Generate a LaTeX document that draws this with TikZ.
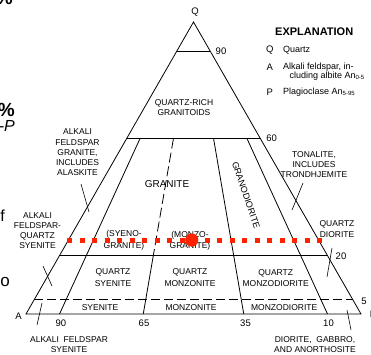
\documentclass[tikz,border=0pt]{standalone}
\usepackage{fontspec}
\setmainfont{Liberation Sans}
\usetikzlibrary{calc}
\definecolor{dotred}{RGB}{255,34,0}
\tikzset{
  edge/.style={line width=0.8pt, black},
  dashedge/.style={line width=0.8pt, black, dash pattern=on 9pt off 4pt},
  leader/.style={line width=0.6pt, black},
  lab/.style={font=\fontsize{8.5}{10.2}\selectfont, align=center, inner sep=0pt},
  labw/.style={font=\fontsize{8.5}{11.6}\selectfont, align=center, inner sep=0pt},
  big/.style={font=\fontsize{10}{12}\selectfont, inner sep=0pt},
  num/.style={font=\fontsize{9.5}{11}\selectfont, inner sep=0pt},
  expl/.style={font=\fontsize{9}{10}\selectfont, inner sep=0pt, anchor=west},
  explkey/.style={font=\fontsize{9.5}{10}\selectfont, inner sep=0pt, anchor=west},
  frag/.style={inner sep=0pt, anchor=south east},
  reddots/.style={dotred, line width=5pt, dash pattern=on 5pt off 7.5pt},
}
\begin{document}
\begin{tikzpicture}[x=1pt, y=-1pt]
\useasboundingbox (0,0) rectangle (371,354);
% corners
\coordinate (A) at (26,314);
\coordinate (P) at (361,314);
\coordinate (Q) at (193.5,22);
% horizontal levels
\coordinate (L90) at ($(A)!0.9!(Q)$);  \coordinate (R90) at ($(P)!0.9!(Q)$);
\coordinate (L60) at ($(A)!0.6!(Q)$);  \coordinate (R60) at ($(P)!0.6!(Q)$);
\coordinate (L20) at ($(A)!0.2!(Q)$);  \coordinate (R20) at ($(P)!0.2!(Q)$);
\coordinate (L5)  at ($(A)!0.05!(Q)$); \coordinate (R5)  at ($(P)!0.05!(Q)$);
% ratio lines
\coordinate (t10) at ($(L60)!0.10!(R60)$); \coordinate (b10) at ($(A)!0.10!(P)$);
\coordinate (t35) at ($(L60)!0.35!(R60)$); \coordinate (m35) at ($(L20)!0.35!(R20)$); \coordinate (b35) at ($(A)!0.35!(P)$);
\coordinate (t65) at ($(L60)!0.65!(R60)$); \coordinate (b65) at ($(A)!0.65!(P)$);
\coordinate (t90) at ($(L60)!0.90!(R60)$); \coordinate (b90) at ($(A)!0.90!(P)$);

% triangle and field boundaries
\draw[edge] (A) -- (P) -- (Q) -- cycle;
\draw[edge] (L90) -- (R90);
\draw[edge] (L60) -- (R60);
\draw[edge] (L20) -- (R20);
\draw[dashedge] (L5) -- (R5);
\draw[edge] (t10) -- (b10);
\draw[line width=0.8pt, dash pattern=on 10pt off 4pt] (t35) -- (m35);
\draw[edge] (m35) -- (b35);
\draw[edge] (t65) -- (b65);
\draw[edge] (t90) -- (b90);

% corner and scale labels
\node[num] (lQ) at (195,11.7) {Q};
\node[num] (lA) at (18.5,316.5) {A};
\node[num, anchor=west] (lP) at (369.6,314) {P};
\node[num] (n90t) at (221,51.7) {90};
\node[num] (n60) at (271.7,138) {60};
\node[num] (n20) at (341,256.3) {20};
\node[num] (n5) at (364,301) {5};
\node[num] (n90) at (61,323.5) {90};
\node[num] (n65) at (144,323.5) {65};
\node[num] (n35) at (245.5,323.5) {35};
\node[num] (n10) at (328.5,323.5) {10};

% field names
\node[lab] (qrg) at (184,107.7) {QUARTZ-RICH\\GRANITOIDS};
\node[big] (gr) at (167,184) {GRANITE};
\node[lab, font=\fontsize{9}{10}\selectfont, rotate=-71] (gd) at (246,195) {GRANODIORITE};
\node[lab, font=\fontsize{8.5}{12}\selectfont] (sg) at (124,240) {(SYENO-\\GRANITE)};
\node[lab, font=\fontsize{8.5}{11}\selectfont] (mg) at (190,241) {(MONZO-\\GRANITE)};
\node[labw] (qs) at (113,277.5) {QUARTZ\\SYENITE};
\node[labw] (qm) at (190,277.5) {QUARTZ\\MONZONITE};
\node[labw] (qmd) at (275.7,278) {QUARTZ\\MONZODIORITE};
\node[lab] (sy) at (100,307.3) {SYENITE};
\node[lab] (mz) at (191,307.3) {MONZONITE};
\node[lab] (mzd) at (284.2,307.3) {MONZODIORITE};
\node[lab] (qd) at (337,229) {QUARTZ\\DIORITE};
\node[lab] (ton) at (314,164.5) {TONALITE,\\INCLUDES\\TRONDHJEMITE};
\node[lab] (afg) at (77.5,152.5) {ALKALI\\FELDSPAR\\GRANITE,\\INCLUDES\\ALASKITE};
\node[lab] (afqs) at (37.5,230.7) {ALKALI\\FELDSPAR-\\QUARTZ\\SYENITE};
\node[lab] (afs) at (69,344.5) {ALKALI\ \ FELDSPAR\\SYENITE};
\node[lab] (dga) at (315,344.8) {DIORITE,\ \ GABBRO,\\AND ANORTHOSITE};

% leader lines
\coordinate (k1a) at (81,184);  \coordinate (k1b) at (89,212);
\coordinate (k2a) at (43,266);  \coordinate (k2b) at (52,286);
\coordinate (k3a) at (303,183); \coordinate (k3b) at (292,210);
\coordinate (k4a) at (332,248); \coordinate (k4b) at (327,277);
\coordinate (k5a) at (37,325);  \coordinate (k5b) at (42,303);
\coordinate (k6a) at (351,330); \coordinate (k6b) at (347,310);
\draw[leader] (k1a) -- (k1b);
\draw[leader] (k2a) -- (k2b);
\draw[leader] (k3a) -- (k3b);
\draw[leader] (k4a) -- (k4b);
\draw[leader] (k5a) -- (k5b);
\draw[leader] (k6a) -- (k6b);

% red marks
\coordinate (rd1) at (67,240.3);
\coordinate (rd2) at (322,240.3);
\draw[reddots] (rd1) -- (rd2);
\fill[dotred] (191.7,240) circle (6.6);

% explanation
\node[font=\bfseries\fontsize{11}{12}\selectfont, inner sep=0pt, anchor=west] (ex) at (275,31.7) {EXPLANATION};
\node[explkey] (eQ) at (266,50) {Q};
\node[expl] (eQt) at (283,50) {Quartz};
\node[explkey] (eA) at (266.3,67.5) {A};
\node[expl] (eAt) at (283,67.5) {Alkali feldspar, in-};
\node[expl] (eAt2) at (289.3,76.5) {cluding albite An\textsubscript{0-5}};
\node[explkey] (eP) at (266.5,92) {P};
\node[expl] (ePt) at (283,92) {Plagioclase An\textsubscript{5-95}};

% fragments of surrounding text at the left edge
\node[frag, font=\bfseries\fontsize{19}{19}\selectfont] (f1) at (13,5) {\%};
\node[frag, font=\bfseries\fontsize{19}{19}\selectfont] (f2) at (15,117) {\%};
\node[frag, font=\itshape\fontsize{16}{16}\selectfont] (f3) at (15,132) {-P};
\node[frag, font=\fontsize{16}{16}\selectfont] (f4) at (5,222) {f};
\node[frag, font=\fontsize{17}{17}\selectfont] (f5) at (10,287) {o};
\end{tikzpicture}
\end{document}
